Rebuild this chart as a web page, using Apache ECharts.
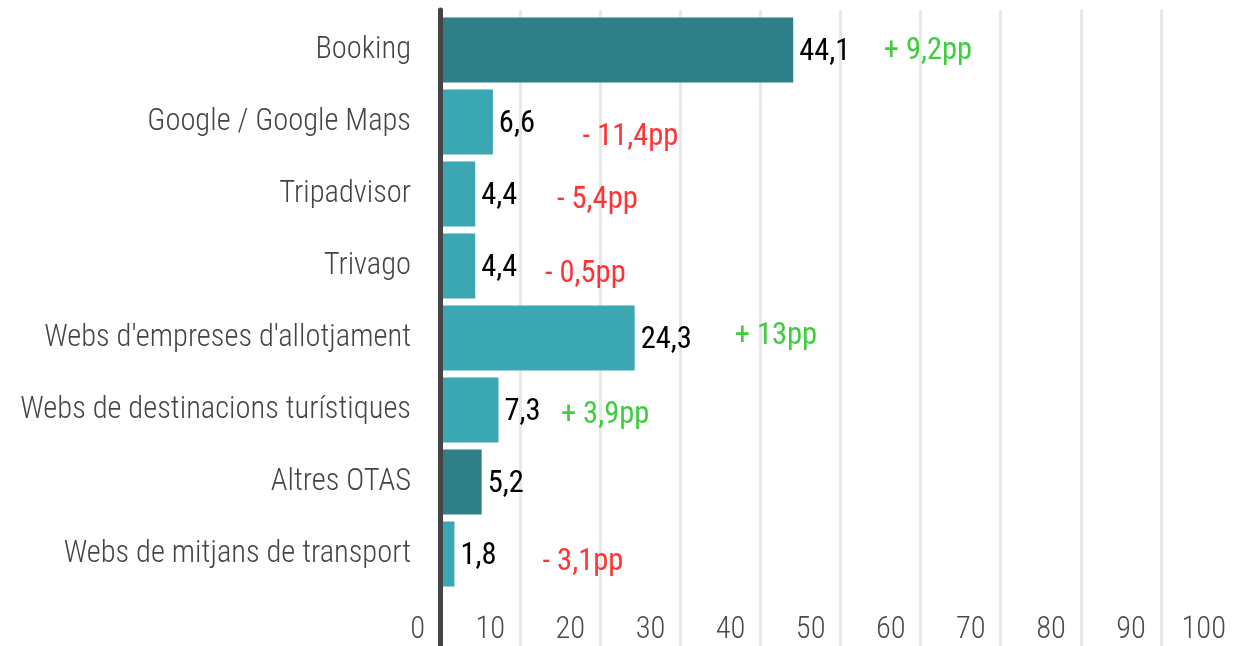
<!DOCTYPE html>
<html>
<head>
<meta charset="utf-8">
<script src="https://cdn.jsdelivr.net/npm/echarts@6/dist/echarts.min.js"></script>
<style>
  html, body { margin: 0; padding: 0; background: #fff; }
  #chart { width: 1237px; height: 646px; }
</style>
</head>
<body>
<div id="chart"></div>
<script>
// dades
var categories = ['Booking', 'Google / Google Maps', 'Tripadvisor', 'Trivago',
    "Webs d'empreses d'allotjament", 'Webs de destinacions turístiques',
    'Altres OTAS', 'Webs de mitjans de transport'];
var values = [44.1, 6.6, 4.4, 4.4, 24.3, 7.3, 5.2, 1.8];
// variació en punts percentuals (null = sense dada)
var changes = [9.2, -11.4, -5.4, -0.5, 13, 3.9, null, -3.1];
// on comença el text de la variació, en unitats de l'eix x
var changeAt = [55.4, 17.8, 14.6, 13.1, 36.8, 15.1, null, 12.8];
var xTicks = [0, 10, 20, 30, 40, 50, 60, 70, 80, 90, 100];
var otaCats = ['Booking', 'Altres OTAS'];

var FONT = '"Roboto Condensed", "DejaVu Sans Condensed", sans-serif';
var noteNudge = [1, 15, 6, 8, -2, 5, 0, 8]; // petit desplaçament vertical del text

function fmt(v) {
    return String(v).replace('.', ',');
}

var notes = [];
changes.forEach(function (c, i) {
    if (c === null) return;
    notes.push({
        value: [changeAt[i], categories[i]],
        label: {
            formatter: (c > 0 ? '+ ' : '- ') + fmt(Math.abs(c)) + 'pp',
            color: c > 0 ? '#0cc00c' : '#ff0000',
            offset: [0, noteNudge[i]]
        }
    });
});

var myChart = echarts.init(document.getElementById('chart'));
var option = {
    animation: false,
    grid: [
        { left: 440, right: -4, top: 14, bottom: 56, outerBoundsMode: 'none' },
        { left: 440, right: -4, top: 10, bottom: 0, outerBoundsMode: 'none' }
    ],
    xAxis: [{
        gridIndex: 0,
        type: 'value',
        min: xTicks[0],
        max: xTicks[xTicks.length - 1],
        interval: 10,
        axisLine: { show: false },
        axisTick: { show: false },
        splitLine: { show: false },
        axisLabel: {
            fontFamily: FONT,
            fontWeight: 300,
            fontSize: 30.5,
            color: '#4a4a4a',
            align: 'right',
            padding: [0, 15, 0, 0],
            margin: 25,
            showMaxLabel: true,
            showMinLabel: true
        }
    }, {
        gridIndex: 1,
        type: 'value',
        min: xTicks[0],
        max: xTicks[xTicks.length - 1],
        interval: 10,
        axisLine: { show: false },
        axisTick: { show: false },
        axisLabel: { show: false },
        splitLine: { show: true, lineStyle: { color: '#e8e8e8', width: 3 } }
    }],
    yAxis: [{
        gridIndex: 0,
        type: 'category',
        data: categories,
        inverse: true,
        axisLine: { show: false },
        axisTick: { show: false },
        axisLabel: {
            fontFamily: FONT,
            fontWeight: 300,
            fontSize: 30.5,
            color: '#444444',
            margin: 29,
            padding: [4, 0, 0, 0]
        }
    }, {
        gridIndex: 1,
        type: 'value',
        z: 5,
        axisLine: { show: true, lineStyle: { color: '#444444', width: 5 } },
        axisTick: { show: false },
        axisLabel: { show: false },
        splitLine: { show: false }
    }],
    series: [{
        type: 'bar',
        xAxisIndex: 0,
        yAxisIndex: 0,
        data: values,
        barCategoryGap: '10%',
        itemStyle: {
            color: function (p) {
                return otaCats.indexOf(categories[p.dataIndex]) >= 0 ? '#2e7f88' : '#3ba7b3';
            }
        },
        label: {
            show: true,
            position: 'right',
            distance: 6,
            offset: [0, 2],
            fontFamily: FONT,
            fontSize: 30.5,
            color: '#000',
            formatter: function (p) { return fmt(p.value); }
        }
    }, {
        type: 'scatter',
        xAxisIndex: 0,
        yAxisIndex: 0,
        symbolSize: 0,
        data: notes,
        label: {
            show: true,
            position: 'right',
            distance: 0,
            fontFamily: FONT,
            fontSize: 30.5
        }
    }]
};
myChart.setOption(option);
</script>
</body>
</html>
